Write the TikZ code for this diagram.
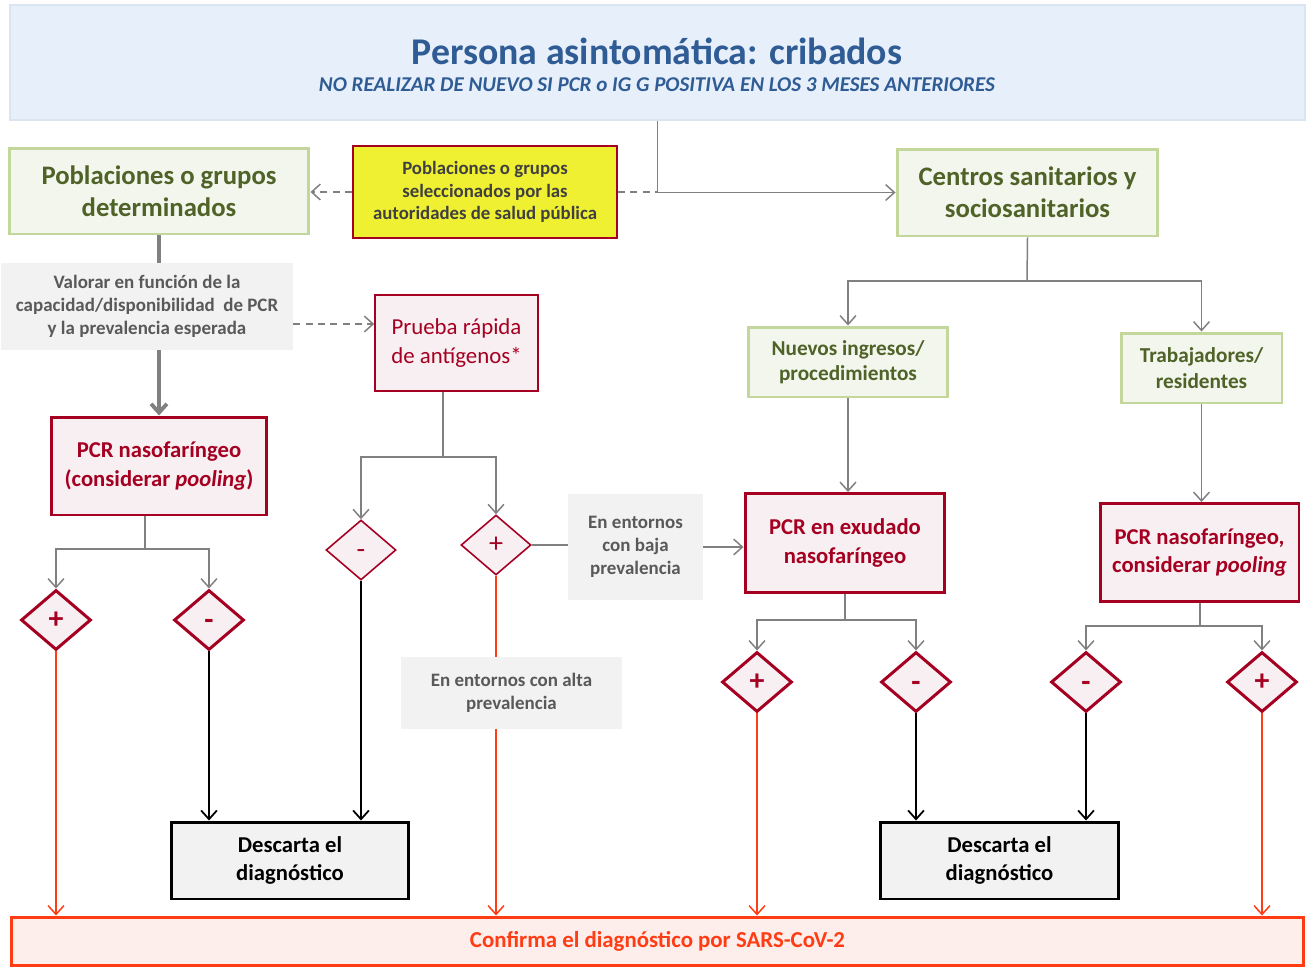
\documentclass[tikz,border=0pt]{standalone}
\usepackage{fontspec}
\setmainfont{Carlito}
\usetikzlibrary{shapes.geometric,arrows.meta}

\definecolor{azulfondo}{HTML}{E7F0FA}
\definecolor{azulborde}{HTML}{DAE5F2}
\definecolor{azultexto}{HTML}{2F5C94}
\definecolor{verdefondo}{HTML}{F2F6EC}
\definecolor{verdeborde}{HTML}{C3D69B}
\definecolor{verdetexto}{HTML}{4F6228}
\definecolor{granate}{HTML}{A50021}
\definecolor{rosafondo}{HTML}{F7EFF1}
\definecolor{amarillo}{HTML}{F0F032}
\definecolor{gris}{HTML}{808080}
\definecolor{grisfondo}{HTML}{F2F2F2}
\definecolor{gristexto}{HTML}{595959}
\definecolor{naranja}{HTML}{FF3C14}
\definecolor{naranjafondo}{HTML}{FDEEEB}

\newcommand{\menos}{\vphantom{+}\raisebox{-0.04em}[0pt][0pt]{-}}

\begin{document}
\begin{tikzpicture}[x=0.02cm,y=-0.02cm,
    caja/.style={rectangle,align=center,inner sep=0pt},
    grupo/.style={caja,fill=verdefondo,draw=verdeborde,line width=1.7pt,text=verdetexto,font=\bfseries\fontsize{15.2}{18}\selectfont},
    subgrupo/.style={grupo,font=\bfseries\fontsize{12.1}{14.5}\selectfont},
    pcr/.style={caja,fill=rosafondo,draw=granate,line width=1.7pt,text=granate,font=\bfseries\fontsize{12.9}{16}\selectfont},
    nota/.style={caja,fill=grisfondo,text=gristexto,font=\bfseries\fontsize{10.8}{13}\selectfont},
    rombo/.style={diamond,inner sep=0pt,minimum width=1.4cm,minimum height=1.2cm,fill=rosafondo,draw=granate,line width=1.7pt,text=granate,font=\bfseries\fontsize{17}{17}\selectfont},
    descarta/.style={caja,fill=grisfondo,draw=black,line width=1.7pt,font=\bfseries\fontsize{12.9}{16}\selectfont,minimum width=4.76cm,minimum height=1.54cm},
    linea/.style={draw=gris,line width=0.85pt},
    guion/.style={linea,dash pattern=on 4pt off 3pt},
    flecha/.style={-{Straight Barb[length=5pt,width=9pt]}},
    rojo/.style={draw=naranja,line width=0.85pt,flecha},
    negro/.style={draw=black,line width=1pt,flecha}]
  \useasboundingbox (0,0) rectangle (1308,967);

  % cabecera
  \node[caja,fill=azulfondo,draw=azulborde,line width=1.5pt,minimum width=25.9cm,minimum height=2.3cm] (cribado) at (657.5,62.5) {};
  \node[text=azultexto,font=\bfseries\fontsize{21.5}{24}\selectfont] (titulo) at (657,51) {Persona asintomática: cribados};
  \node[text=azultexto,font=\bfseries\itshape\fontsize{12}{14}\selectfont] (aviso) at (657,85) {NO REALIZAR DE NUEVO SI PCR o IG G POSITIVA EN LOS 3 MESES ANTERIORES};

  % primer nivel
  \node[grupo,minimum width=6cm,minimum height=1.72cm] (pobl) at (159,191) {Poblaciones o grupos\\determinados};
  \node[caja,fill=amarillo,draw=granate,line width=1.3pt,minimum width=5.28cm,minimum height=1.84cm,text=black!75,font=\bfseries\fontsize{10.7}{13}\selectfont] (selec) at (485,192) {Poblaciones o grupos\\seleccionados por las\\autoridades de salud pública};
  \node[grupo,minimum width=5.22cm,minimum height=1.74cm] (centros) at (1027.5,192.5) {Centros sanitarios y\\sociosanitarios};

  \draw[linea,flecha] (cribado.south) |- (centros.west);
  \draw[guion] (selec.east) -- (selec.east -| cribado.south);
  \draw[guion,flecha] (selec.west) -- (selec.west -| pobl.east);

  % rama izquierda
  \node[nota,minimum width=5.84cm,minimum height=1.74cm] (valorar) at (147,306.5) {Valorar en función de la\\capacidad/disponibilidad\ \ de PCR\\y la prevalencia esperada};
  \node[caja,fill=rosafondo,draw=granate,line width=0.9pt,minimum width=3.26cm,minimum height=1.92cm,text=granate,font=\fontsize{13}{16}\selectfont] (prueba) at (456.5,343) {Prueba rápida\\de antígenos*};
  \node[pcr,minimum width=4.3cm,minimum height=1.96cm] (pcrA) at (159,466) {PCR nasofaríngeo\\(considerar \textit{pooling})};

  \draw[draw=gris,line width=2.2pt] (pobl.south) -- (pobl.south |- valorar.north);
  \draw[draw=gris,line width=2.2pt,-{Straight Barb[length=5pt,width=9pt]}] (pobl.south |- valorar.south) -- (pcrA.north);
  \draw[guion,flecha] (valorar.east) ++(0,17.5) coordinate (v1) -- (v1 -| prueba.west);

  % rombos
  \foreach \n/\x/\y/\s in {dA1/56/620/+, dA2/209/620/\menos, dB1/757/682/+, dB2/916/682/\menos, dC1/1086/682/\menos, dC2/1262/682/+}
    \node[rombo] (\n) at (\x,\y) {\s};
  \node[rombo,line width=0.9pt,font=\fontsize{16}{16}\selectfont] (dP1) at (361,550) {\menos};
  \node[rombo,line width=0.9pt,font=\fontsize{16}{16}\selectfont] (dP2) at (496,545) {+};

  \coordinate (pa) at (145,549);
  \draw[linea] (pa |- pcrA.south) -- (pa);
  \draw[linea,flecha] (pa) -| (dA1.north);
  \draw[linea,flecha] (pa) -| (dA2.north);

  \coordinate (pr) at (443,457);
  \draw[draw=gris,line width=1.5pt] (pr |- prueba.south) -- (pr);
  \draw[linea,flecha] (pr) -| (dP1.north);
  \draw[linea,flecha] (pr) -| (dP2.north);

  % rama derecha
  \node[subgrupo,minimum width=4cm,minimum height=1.4cm] (nuevos) at (848,362) {Nuevos ingresos/\\procedimientos};
  \node[subgrupo,minimum width=3.22cm,minimum height=1.4cm] (trab) at (1201.5,368) {Trabajadores/\\residentes};
  \node[pcr,minimum width=4cm,minimum height=1.98cm] (pcrB) at (845,543) {PCR en exudado\\nasofaríngeo};
  \node[pcr,minimum width=3.98cm,minimum height=1.96cm] (pcrC) at (1199.5,552.5) {PCR nasofaríngeo,\\considerar \textit{pooling}};
  \node[nota,minimum width=2.7cm,minimum height=2.12cm] (baja) at (635.5,547) {En entornos\\con baja\\prevalencia};

  \coordinate (cs) at (1027,281);
  \draw[linea] (centros.south) -- (cs);
  \draw[linea,flecha] (cs) -| (nuevos.north);
  \draw[linea,flecha] (cs) -| (trab.north);
  \draw[linea,flecha] (nuevos.south) -- (nuevos.south |- pcrB.north);
  \draw[linea,flecha] (trab.south) -- (trab.south |- pcrC.north);
  \draw[linea] (dP2.east) -- (dP2.east -| baja.west);
  \draw[linea,flecha] (baja.east) -- (baja.east -| pcrB.west);

  \coordinate (pb) at (845,620);
  \draw[linea] (pcrB.south) -- (pb);
  \draw[linea,flecha] (pb) -| (dB1.north);
  \draw[linea,flecha] (pb) -| (dB2.north);

  \coordinate (pc) at (1200,626);
  \draw[linea] (pc |- pcrC.south) -- (pc);
  \draw[linea,flecha] (pc) -| (dC1.north);
  \draw[linea,flecha] (pc) -| (dC2.north);

  % resultados
  \node[descarta] (descA) at (290,860.5) {Descarta el\\diagnóstico};
  \node[descarta] (descB) at (999.5,860.5) {Descarta el\\diagnóstico};
  \node[caja,fill=naranjafondo,draw=naranja,line width=1.7pt,minimum width=25.86cm,minimum height=0.96cm,text=naranja,font=\bfseries\fontsize{13}{15}\selectfont] (confirma) at (657.5,941) {Confirma el diagnóstico por SARS-CoV-2};

  \foreach \d in {dA1,dP2,dB1,dC2}
    \draw[rojo] (\d.south) -- (\d.south |- confirma.north);
  \foreach \d in {dA2,dP1}
    \draw[negro] (\d.south) -- (\d.south |- descA.north);
  \foreach \d in {dB2,dC1}
    \draw[negro] (\d.south) -- (\d.south |- descB.north);

  \node[nota,minimum width=4.42cm,minimum height=1.44cm] (alta) at (511.5,693) {En entornos con alta\\prevalencia};
\end{tikzpicture}
\end{document}
